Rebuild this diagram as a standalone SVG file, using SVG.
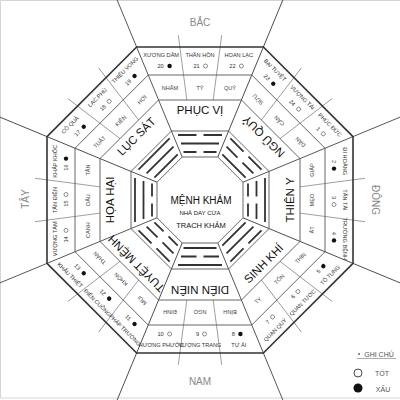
<svg xmlns="http://www.w3.org/2000/svg" xmlns:xlink="http://www.w3.org/1999/xlink" width="400" height="400" viewBox="0 0 400 400">
<style>
text{font-family:"Liberation Sans Narrow","Liberation Sans",Arial,sans-serif;text-anchor:middle;dominant-baseline:central}
.st{font-size:5.6px;fill:#333}
.mt{font-size:5.6px;fill:#444}
.pl{font-family:"Liberation Sans",Arial,sans-serif;font-size:11.5px;fill:#111}
.dir{font-family:"Liberation Sans",Arial,sans-serif;font-size:10px;fill:#888}
.ct{font-family:"Liberation Sans",Arial,sans-serif;fill:#111}
.lg{font-size:7px;fill:#555}
.ok{fill:#fff;stroke:#444;stroke-width:0.6}
.bad{fill:#111}
.outer{fill:none;stroke:#333;stroke-width:1.6}
.ring{fill:none;stroke:#555;stroke-width:0.9}
.spoke{stroke:#444;stroke-width:0.9}
.div{stroke:#777;stroke-width:0.7;fill:none}
.tg{stroke:#333;stroke-width:1.8;fill:none}
</style>
<defs>
<line id="spoke" class="spoke" x1="182.19" y1="157" x2="104.73" y2="-30"/>
<path id="divs" class="div" d="M186.83,100L178.28,35M213.17,100L221.72,35"/>
</defs>
<rect width="400" height="400" fill="#fff"/>
<path d="M400,0.5H0.5V398H400" fill="none" stroke="#d4d4d4" stroke-width="1"/>
<g id="connectors">
<use xlink:href="#spoke"/>
<use xlink:href="#spoke" transform="rotate(45 200 200)"/>
<use xlink:href="#spoke" transform="rotate(90 200 200)"/>
<use xlink:href="#spoke" transform="rotate(135 200 200)"/>
<use xlink:href="#spoke" transform="rotate(180 200 200)"/>
<use xlink:href="#spoke" transform="rotate(225 200 200)"/>
<use xlink:href="#spoke" transform="rotate(270 200 200)"/>
<use xlink:href="#spoke" transform="rotate(315 200 200)"/>
<use xlink:href="#divs"/>
<use xlink:href="#divs" transform="rotate(45 200 200)"/>
<use xlink:href="#divs" transform="rotate(90 200 200)"/>
<use xlink:href="#divs" transform="rotate(135 200 200)"/>
<use xlink:href="#divs" transform="rotate(180 200 200)"/>
<use xlink:href="#divs" transform="rotate(225 200 200)"/>
<use xlink:href="#divs" transform="rotate(270 200 200)"/>
<use xlink:href="#divs" transform="rotate(315 200 200)"/>
<polygon class="outer" points="136.62,47 263.38,47 353,136.62 353,263.38 263.38,353 136.62,353 47,263.38 47,136.62"/>
<polygon class="ring" points="148.22,75 251.78,75 325,148.22 325,251.78 251.78,325 148.22,325 75,251.78 75,148.22"/>
<polygon class="ring" points="158.58,100 241.42,100 300,158.58 300,241.42 241.42,300 158.58,300 100,241.42 100,158.58"/>
<polygon class="ring" points="171.42,131 228.58,131 269,171.42 269,228.58 228.58,269 171.42,269 131,228.58 131,171.42"/>
<polygon class="ring" points="182.19,157 217.81,157 243,182.19 243,217.81 217.81,243 182.19,243 157,217.81 157,182.19"/>
</g>

<g id="sector-n">
<path class="tg" d="M178,135H196.5M203.5,135H222M181,143.5H219M183.5,152H196.5M203.5,152H216.5"/>
<text class="pl" x="200" y="110">PHỤC VỊ</text>
<text class="mt" x="170" y="88">NHÂM</text><text class="mt" x="200" y="88">TÝ</text><text class="mt" x="230" y="88">QUÝ</text>
<text class="st" x="161.2" y="55">XƯƠNG DẦM</text><text class="st" x="200" y="55">THẦN HỒN</text><text class="st" x="238.8" y="55">HOAN LẠC</text>
<text class="st" x="160.6" y="66">20</text><circle class="bad" cx="169.6" cy="66" r="2.2"/>
<text class="st" x="196.5" y="66">21</text><circle class="ok" cx="205.5" cy="66" r="2"/>
<text class="st" x="232.4" y="66">22</text><circle class="ok" cx="241.4" cy="66" r="2"/>
</g>

<g id="sector-ne" transform="rotate(45 200 200)">
<path class="tg" d="M178,135H196.5M203.5,135H222M181,143.5H196.5M203.5,143.5H219M183.5,152H216.5"/>
<text class="pl" x="200" y="110" transform="rotate(180 200 110)">NGŨ QUỶ</text>
<text class="mt" x="170" y="88" transform="rotate(180 170 88)">SỬU</text><text class="mt" x="200" y="88" transform="rotate(180 200 88)">CẤN</text><text class="mt" x="230" y="88" transform="rotate(180 230 88)">DẦN</text>
<text class="st" x="161.2" y="55">BẠI TUYỆT</text><text class="st" x="200" y="55">VƯỢNG TÀI</text><text class="st" x="238.8" y="55">PHÚC ĐỨC</text>
<text class="st" x="160.6" y="66">23</text><circle class="bad" cx="169.6" cy="66" r="2.2"/>
<text class="st" x="196.5" y="66">24</text><circle class="ok" cx="205.5" cy="66" r="2"/>
<text class="st" x="233.4" y="66">1</text><circle class="ok" cx="240.4" cy="66" r="2"/>
</g>

<g id="sector-e" transform="rotate(90 200 200)">
<path class="tg" d="M178,135H222M181,143.5H196.5M203.5,143.5H219M183.5,152H196.5M203.5,152H216.5"/>
<text class="pl" x="200" y="110" transform="rotate(180 200 110)">THIÊN Y</text>
<text class="mt" x="170" y="88" transform="rotate(180 170 88)">GIÁP</text><text class="mt" x="200" y="88" transform="rotate(180 200 88)">MẸO</text><text class="mt" x="230" y="88" transform="rotate(180 230 88)">ẤT</text>
<text class="st" x="161.2" y="55">ĐI HOÀNG</text><text class="st" x="200" y="55">TẤN TÀI</text><text class="st" x="238.8" y="55">TRƯỜNG BỆNH</text>
<text class="st" x="161.6" y="66">2</text><circle class="bad" cx="168.6" cy="66" r="2.2"/>
<text class="st" x="197.5" y="66">3</text><circle class="ok" cx="204.5" cy="66" r="2"/>
<text class="st" x="233.4" y="66">4</text><circle class="bad" cx="240.4" cy="66" r="2.2"/>
</g>

<g id="sector-se" transform="rotate(135 200 200)">
<path class="tg" d="M178,135H196.5M203.5,135H222M181,143.5H219M183.5,152H216.5"/>
<text class="pl" x="200" y="110" transform="rotate(180 200 110)">SINH KHÍ</text>
<text class="mt" x="170" y="88" transform="rotate(180 170 88)">THÌN</text><text class="mt" x="200" y="88" transform="rotate(180 200 88)">TỐN</text><text class="mt" x="230" y="88" transform="rotate(180 230 88)">TỴ</text>
<text class="st" x="161.2" y="55" transform="rotate(180 161.2 55)">TỐ TỤNG</text><text class="st" x="200" y="55" transform="rotate(180 200 55)">QUAN TƯỚC</text><text class="st" x="238.8" y="55" transform="rotate(180 238.8 55)">QUAN QUÝ</text>
<g transform="rotate(180 164.1 66)"><text class="st" x="161.6" y="66">5</text><circle class="bad" cx="168.6" cy="66" r="2.2"/></g>
<g transform="rotate(180 200 66)"><text class="st" x="197.5" y="66">6</text><circle class="ok" cx="204.5" cy="66" r="2"/></g>
<g transform="rotate(180 235.9 66)"><text class="st" x="233.4" y="66">7</text><circle class="ok" cx="240.4" cy="66" r="2"/></g>
</g>

<g id="sector-s" transform="rotate(180 200 200)">
<path class="tg" d="M178,135H222M181,143.5H196.5M203.5,143.5H219M183.5,152H216.5"/>
<text class="pl" x="200" y="110">DIÊN NIÊN</text>
<text class="mt" x="170" y="88">BÍNH</text><text class="mt" x="200" y="88">NGỌ</text><text class="mt" x="230" y="88">ĐINH</text>
<text class="st" x="161.2" y="55" transform="rotate(180 161.2 55)">TỰ ÁI</text><text class="st" x="200" y="55" transform="rotate(180 200 55)">VƯỢNG TRANG</text><text class="st" x="238.8" y="55" transform="rotate(180 238.8 55)">HƯƠNG PHƯỚC</text>
<g transform="rotate(180 164.1 66)"><text class="st" x="161.6" y="66">8</text><circle class="bad" cx="168.6" cy="66" r="2.2"/></g>
<g transform="rotate(180 200 66)"><text class="st" x="197.5" y="66">9</text><circle class="ok" cx="204.5" cy="66" r="2"/></g>
<g transform="rotate(180 235.9 66)"><text class="st" x="232.4" y="66">10</text><circle class="ok" cx="241.4" cy="66" r="2"/></g>
</g>

<g id="sector-sw" transform="rotate(225 200 200)">
<path class="tg" d="M178,135H196.5M203.5,135H222M181,143.5H196.5M203.5,143.5H219M183.5,152H196.5M203.5,152H216.5"/>
<text class="pl" x="200" y="110">TUYỆT MỆNH</text>
<text class="mt" x="170" y="88">MÙI</text><text class="mt" x="200" y="88">KHÔN</text><text class="mt" x="230" y="88">THÂN</text>
<text class="st" x="161.2" y="55" transform="rotate(180 161.2 55)">PHÁP TRƯỜNG</text><text class="st" x="200" y="55" transform="rotate(180 200 55)">ĐIÊN CUỒNG</text><text class="st" x="238.8" y="55" transform="rotate(180 238.8 55)">KHẨU THIỆT</text>
<g transform="rotate(180 164.1 66)"><text class="st" x="160.6" y="66">11</text><circle class="bad" cx="169.6" cy="66" r="2.2"/></g>
<g transform="rotate(180 200 66)"><text class="st" x="196.5" y="66">12</text><circle class="bad" cx="205.5" cy="66" r="2.2"/></g>
<g transform="rotate(180 235.9 66)"><text class="st" x="232.4" y="66">13</text><circle class="bad" cx="241.4" cy="66" r="2.2"/></g>
</g>

<g id="sector-w" transform="rotate(270 200 200)">
<path class="tg" d="M178,135H222M181,143.5H219M183.5,152H196.5M203.5,152H216.5"/>
<text class="pl" x="200" y="110">HỌA HẠI</text>
<text class="mt" x="170" y="88">CANH</text><text class="mt" x="200" y="88">DẬU</text><text class="mt" x="230" y="88">TÂN</text>
<text class="st" x="161.2" y="55">VƯỢNG TÀM</text><text class="st" x="200" y="55">TẤN ĐIỀN</text><text class="st" x="238.8" y="55">KHẮP KHỐC</text>
<text class="st" x="160.6" y="66">14</text><circle class="ok" cx="169.6" cy="66" r="2"/>
<text class="st" x="196.5" y="66">15</text><circle class="ok" cx="205.5" cy="66" r="2"/>
<text class="st" x="232.4" y="66">16</text><circle class="bad" cx="241.4" cy="66" r="2.2"/>
</g>

<g id="sector-nw" transform="rotate(315 200 200)">
<path class="tg" d="M178,135H222M181,143.5H219M183.5,152H216.5"/>
<text class="pl" x="200" y="110">LỤC SÁT</text>
<text class="mt" x="170" y="88">TUẤT</text><text class="mt" x="200" y="88">KIỀN</text><text class="mt" x="230" y="88">HỢI</text>
<text class="st" x="161.2" y="55">CÔ QUẢ</text><text class="st" x="200" y="55">LẠC PHÙ</text><text class="st" x="238.8" y="55">THIẾU VONG</text>
<text class="st" x="160.6" y="66">17</text><circle class="bad" cx="169.6" cy="66" r="2.2"/>
<text class="st" x="196.5" y="66">18</text><circle class="ok" cx="205.5" cy="66" r="2"/>
<text class="st" x="232.4" y="66">19</text><circle class="bad" cx="241.4" cy="66" r="2.2"/>
</g>

<g id="center">
<text class="ct" x="201" y="200" font-size="10">MỆNH KHẢM</text>
<text class="ct" x="200" y="213" font-size="6">NHÀ DAY CỬA</text>
<text class="ct" x="201" y="225" font-size="7.5">TRẠCH KHẢM</text>
</g>

<g id="directions">
<text class="dir" x="200" y="22">BẮC</text>
<text class="dir" x="200" y="381">NAM</text>
<text class="dir" x="25" y="199" transform="rotate(-90 25 199)">TÂY</text>
<text class="dir" x="375" y="200" transform="rotate(90 375 200)">ĐÔNG</text>
</g>

<g id="legend">
<circle cx="359" cy="354" r="1" fill="#666"/>
<text class="lg" x="379" y="354" fill="#666">GHI CHÚ</text>
<line x1="357" y1="358.5" x2="396" y2="358.5" stroke="#888" stroke-width="0.7"/>
<circle cx="358" cy="373" r="4" fill="#fff" stroke="#333" stroke-width="0.9"/>
<text class="lg" x="382" y="373">TỐT</text>
<circle cx="358" cy="388" r="4.5" fill="#111"/>
<text class="lg" x="383" y="389">XẤU</text>
</g>
</svg>
